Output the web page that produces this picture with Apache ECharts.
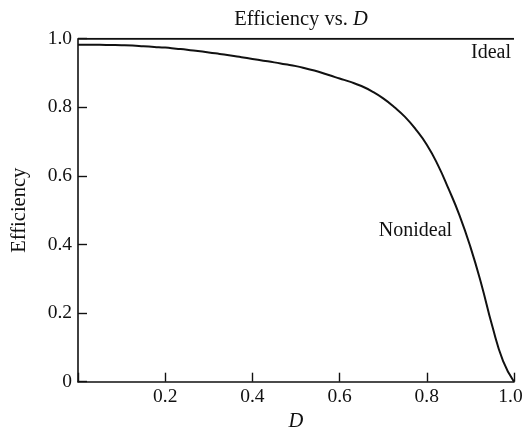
<!DOCTYPE html>
<html>
<head>
<meta charset="utf-8">
<script src="https://cdn.jsdelivr.net/npm/echarts@6/dist/echarts.min.js"></script>
<style>html,body{margin:0;padding:0;background:#fff}#c{width:523px;height:431px}</style>
</head>
<body>
<div id="c"></div>
<script>
const dValues = [0, 0.025, 0.05, 0.075, 0.1, 0.125, 0.15, 0.175, 0.2, 0.225, 0.25, 0.275, 0.3, 0.325, 0.35, 0.375, 0.4, 0.425, 0.45, 0.475, 0.5, 0.525, 0.55, 0.575, 0.6, 0.625, 0.65, 0.675, 0.7, 0.725, 0.75, 0.775, 0.8, 0.825, 0.85, 0.875, 0.9, 0.925, 0.95, 0.975, 1.0];
const nonideal = [0.982, 0.982, 0.982, 0.9815, 0.981, 0.980, 0.978, 0.976, 0.974, 0.971, 0.968, 0.964, 0.960, 0.9555, 0.951, 0.946, 0.941, 0.936, 0.931, 0.9255, 0.920, 0.9125, 0.9045, 0.894, 0.884, 0.874, 0.862, 0.846, 0.826, 0.801, 0.772, 0.735, 0.691, 0.633, 0.562, 0.485, 0.393, 0.285, 0.163, 0.060, 0.0];
const idealD = [0, 1.0];
const ideal = [1.0, 1.0];
const labelIdeal = {text: 'Ideal', d: 1.0, e: 1.0};
const labelNonideal = {text: 'Nonideal', d: 0.858, e: 0.447};

const serif = '"Liberation Serif", "DejaVu Serif", serif';
const chart = echarts.init(document.getElementById('c'), null, {renderer: 'canvas'});
chart.setOption({
  animation: false,
  backgroundColor: '#fff',
  title: {
    text: '{a|Efficiency vs. }{b|D}',
    left: 296, top: 4, textAlign: 'center',
    textStyle: {
      fontWeight: 'normal',
      rich: {
        a: {fontFamily: serif, fontSize: 20.5, color: '#111', fontWeight: 'normal'},
        b: {fontFamily: serif, fontSize: 20.5, color: '#111', fontStyle: 'italic', fontWeight: 'normal'}
      }
    }
  },
  grid: {left: 78, right: 9, top: 38.7, bottom: 49.3, containLabel: false, outerBoundsMode: 'none'},
  xAxis: {
    type: 'value', min: 0, max: 1, interval: 0.2,
    name: 'D', nameLocation: 'middle', nameGap: 29,
    nameTextStyle: {fontFamily: serif, fontSize: 20.5, fontStyle: 'italic', color: '#111'},
    axisLine: {show: true, lineStyle: {color: '#111', width: 1.6}},
    axisTick: {show: true, inside: true, length: 9, lineStyle: {color: '#111', width: 1.4}},
    axisLabel: {
      fontFamily: serif, fontSize: 19.5, color: '#111', margin: 5,
      formatter: v => (Math.abs(v) < 1e-9 ? '' : (Math.abs(v - 1) < 1e-9 ? '{m|1.0}' : v.toFixed(1))),
      rich: {m: {fontFamily: serif, fontSize: 19.5, color: '#111', padding: [0, 7, 0, 0]}}
    },
    splitLine: {show: false}
  },
  yAxis: {
    type: 'value', min: 0, max: 1, interval: 0.2,
    name: 'Efficiency', nameLocation: 'middle', nameGap: 48, nameRotate: 90,
    nameTextStyle: {fontFamily: serif, fontSize: 20.5, color: '#111'},
    axisLine: {show: true, lineStyle: {color: '#111', width: 1.6}},
    axisTick: {show: true, inside: true, length: 9, lineStyle: {color: '#111', width: 1.4}},
    axisLabel: {
      fontFamily: serif, fontSize: 19.5, color: '#111', margin: 6,
      formatter: v => (Math.abs(v) < 1e-9 ? '0' : v.toFixed(1))
    },
    splitLine: {show: false}
  },
  series: [
    {
      name: 'Ideal', type: 'line', showSymbol: false, symbol: 'none',
      data: idealD.map((d, i) => [d, ideal[i]]),
      lineStyle: {color: '#111', width: 2},
      markPoint: {
        symbol: 'circle', symbolSize: 0,
        data: [{coord: [labelIdeal.d, labelIdeal.e], value: labelIdeal.text,
          label: {show: true, formatter: labelIdeal.text, position: 'inside', align: 'right', verticalAlign: 'middle', offset: [-3, 14],
            fontFamily: serif, fontSize: 20, color: '#111'}}]
      }
    },
    {
      name: 'Nonideal', type: 'line', showSymbol: false, symbol: 'none', smooth: 0.5,
      data: dValues.map((d, i) => [d, nonideal[i]]),
      lineStyle: {color: '#111', width: 2},
      markPoint: {
        symbol: 'circle', symbolSize: 0,
        data: [{coord: [labelNonideal.d, labelNonideal.e], value: labelNonideal.text,
          label: {show: true, formatter: labelNonideal.text, position: 'inside', align: 'right', verticalAlign: 'middle', offset: [0, 2],
            fontFamily: serif, fontSize: 20, color: '#111'}}]
      }
    }
  ]
});
</script>
</body>
</html>
